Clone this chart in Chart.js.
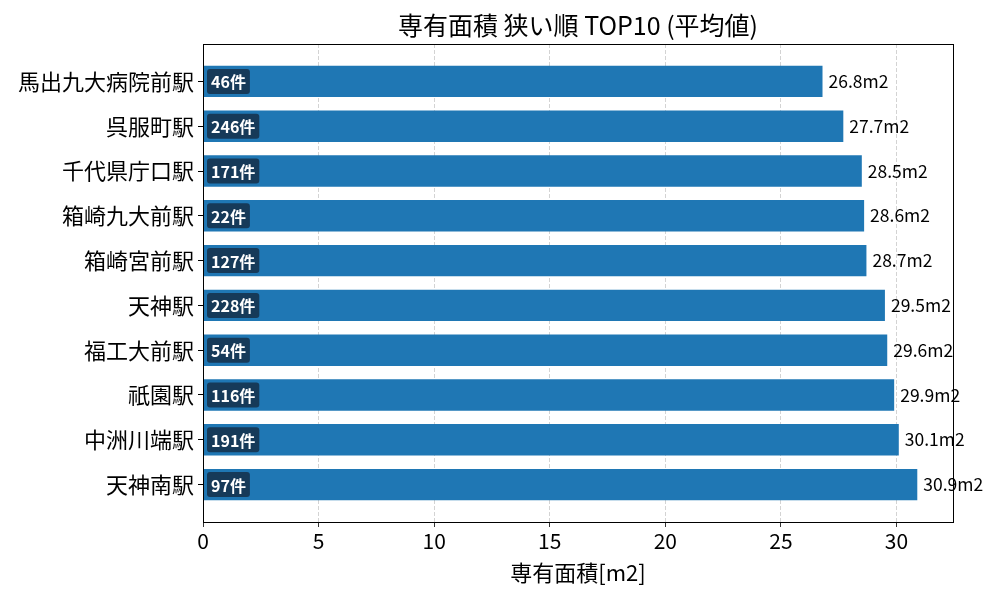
<!DOCTYPE html>
<html>
<head>
<meta charset="utf-8">
<script src="https://cdn.jsdelivr.net/npm/chart.js@4"></script>
<style>
  html, body { margin: 0; padding: 0; background: #fff; }
  #wrap { width: 1000px; height: 600px; }
</style>
</head>
<body>
<div id="wrap"><canvas id="myChart" width="1000" height="600"></canvas></div>
<script>
const stations = ['馬出九大病院前駅', '呉服町駅', '千代県庁口駅', '箱崎九大前駅', '箱崎宮前駅',
    '天神駅', '福工大前駅', '祇園駅', '中洲川端駅', '天神南駅'];
const avgArea = [26.8, 27.7, 28.5, 28.6, 28.7, 29.5, 29.6, 29.9, 30.1, 30.9];
const counts = [46, 246, 171, 22, 127, 228, 54, 116, 191, 97];
const xTicks = [0, 5, 10, 15, 20, 25, 30];

const FONT = '"Noto Sans CJK JP", "Noto Sans", sans-serif';

const labelPlugin = {
    id: 'barLabels',
    afterDraw(chart) {
        const ctx = chart.ctx;
        const area = chart.chartArea;
        const meta = chart.getDatasetMeta(0);

        // axes frame
        ctx.save();
        ctx.strokeStyle = '#000';
        ctx.lineWidth = 1;
        ctx.strokeRect(area.left + 0.5, area.top + 0.5, area.right - area.left, area.bottom - area.top);

        // title, centred over the plot area
        ctx.fillStyle = '#000';
        ctx.font = '25px ' + FONT;
        ctx.textAlign = 'center';
        ctx.textBaseline = 'middle';
        ctx.fillText('専有面積 狭い順 TOP10 (平均値)', (area.left + area.right) / 2, 25);

        meta.data.forEach((bar, i) => {
            // value at the end of the bar
            ctx.fillStyle = '#000';
            ctx.font = '17.5px ' + FONT;
            ctx.textAlign = 'left';
            ctx.textBaseline = 'middle';
            ctx.fillText(avgArea[i].toFixed(1) + 'm2', bar.x + 6, bar.y);

            // count badge at the start
            const txt = counts[i] + '件';
            ctx.font = 'bold 16px ' + FONT;
            const w = ctx.measureText(txt).width;
            const bx = area.left + 4, bh = 25;
            ctx.fillStyle = '#163a59';
            ctx.beginPath();
            ctx.roundRect(bx, bar.y - bh / 2, w + 8, bh, 3);
            ctx.fill();
            ctx.fillStyle = '#fff';
            ctx.fillText(txt, bx + 4, bar.y + 1);
        });
        ctx.restore();
    }
};

const ctx = document.getElementById('myChart').getContext('2d');
new Chart(ctx, {
    type: 'bar',
    data: {
        datasets: [{
            data: avgArea.map((v, i) => ({ x: v, y: i })),
            backgroundColor: '#1f77b4',
            borderWidth: 0,
            barPercentage: 0.7,
            categoryPercentage: 1.0
        }]
    },
    options: {
        indexAxis: 'y',
        responsive: false,
        animation: false,
        events: [],
        layout: { padding: { left: 0, right: 47, top: 44, bottom: 14 } },
        plugins: {
            legend: { display: false },
            tooltip: { enabled: false }
        },
        scales: {
            x: {
                type: 'linear',
                min: 0,
                max: 32.445,
                z: 1,
                afterBuildTicks: s => { s.ticks = xTicks.map(v => ({ value: v })); },
                afterFit: s => { s.height = 64; },
                ticks: {
                    color: '#000',
                    font: { family: FONT, size: 21 },
                    padding: 1
                },
                grid: {
                    color: 'rgba(176,176,176,0.7)',
                    tickColor: '#000',
                    tickBorderDash: [],
                    tickLength: 5,
                    lineWidth: 0.8
                },
                border: { display: false, dash: [4, 2] },
                title: {
                    display: true,
                    text: '専有面積[m2]',
                    color: '#000',
                    font: { family: FONT, size: 22 },
                    padding: { top: 0, bottom: 0 }
                }
            },
            y: {
                type: 'linear',
                reverse: true,
                offset: false,
                min: -0.835,
                max: 9.835,
                afterBuildTicks: s => { s.ticks = stations.map((_, i) => ({ value: i })); },
                afterFit: s => { s.width = 203; },
                ticks: {
                    color: '#000',
                    font: { family: FONT, size: 22 },
                    padding: 4,
                    callback: v => stations[v]
                },
                grid: {
                    offset: false,
                    drawOnChartArea: false,
                    tickColor: '#000',
                    tickLength: 5
                },
                border: { display: false }
            }
        }
    },
    plugins: [labelPlugin]
});
</script>
</body>
</html>
